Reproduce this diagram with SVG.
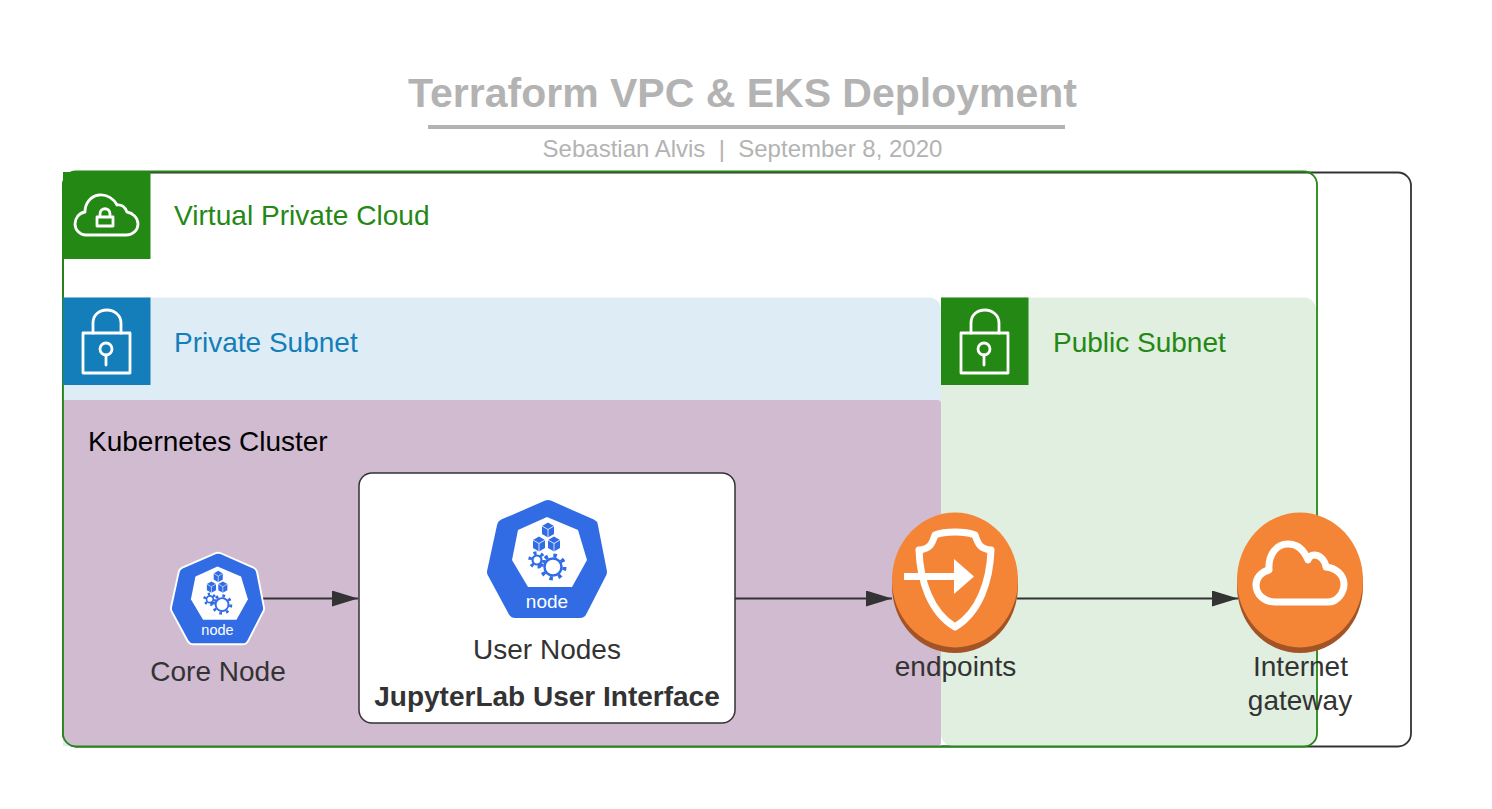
<svg xmlns="http://www.w3.org/2000/svg" xmlns:xlink="http://www.w3.org/1999/xlink" width="1492" height="809" viewBox="0 0 1492 809">
<style>
text{font-family:"Liberation Sans",Arial,sans-serif}
.lbl{font-size:28px;fill:#333;text-anchor:middle}
.ico{fill:none;stroke:#fff;stroke-linejoin:round;stroke-linecap:round}
.conn{fill:none;stroke:#333;stroke-width:2;marker-end:url(#arrow)}
.green{fill:#248814}
.blue{fill:#147eba}
</style>
<defs>
<marker id="arrow" markerUnits="userSpaceOnUse" markerWidth="28" markerHeight="18" refX="26" refY="8" orient="auto"><path d="M0 0L26 8L0 16Z" fill="#333"/></marker>
<g id="lock" class="ico" stroke-width="2.800">
<rect x="83" y="333" width="47" height="40"/>
<path d="M93 333V323C93 315 99 310 107 310C114 310 121 315 121 323V333"/>
<circle cx="106" cy="349" r="6"/>
<path d="M106 355V365"/>
</g>
<path id="hept" d="M1 -52L44 -33L53 13L33 52H-32L-53 13L-43 -33Z" stroke-linejoin="round"/>
<g id="k8snode">
<use href="#hept" xlink:href="#hept" fill="#326ce5" stroke="#326ce5" stroke-width="14"/>
<path d="M0 -42L31 -29L40 1L25 28H-19L-35 1L-29 -29Z" fill="#fff"/>
<g fill="#326ce5">
<path d="M1 -36.500L7 -33V-25L1 -21.500L-5 -25V-33Z"/>
<path d="M-8 -22.500L-2 -19V-11L-8 -7.500L-14 -11V-19Z"/>
<path d="M7 -22.500L13 -19V-11L7 -7.500L1 -11V-19Z"/>
</g>
<path d="M-5 -33L1 -29.500L7 -33M1 -29.500V-21.500M-14 -19L-8 -15.500L-2 -19M-8 -15.500V-7.500M1 -19L7 -15.500L13 -19M7 -15.500V-7.500" fill="none" stroke="#fff" stroke-width=".8"/>
<circle cx="-10" cy="1" r="7" fill="none" stroke="#326ce5" stroke-width="3.500" stroke-dasharray="3 4.330"/>
<circle cx="-10" cy="1" r="4.500" fill="#fff" stroke="#326ce5" stroke-width="2.200"/>
<circle cx="6" cy="8" r="11.500" fill="none" stroke="#326ce5" stroke-width="4" stroke-dasharray="3.500 5.530"/>
<circle cx="6" cy="8" r="8.500" fill="#fff" stroke="#326ce5" stroke-width="2.500"/>
</g>
</defs>

<g id="title">
<text x="742.500" y="107" font-size="41" font-weight="700" fill="#b3b3b3" text-anchor="middle">Terraform VPC &amp; EKS Deployment</text>
<rect x="428" y="125" width="637" height="4" fill="#b3b3b3"/>
<text x="742.500" y="157" font-size="24" fill="#b3b3b3" text-anchor="middle" xml:space="preserve">Sebastian Alvis  |  September 8, 2020</text>
</g>

<g id="outer"><rect x="63" y="172.500" width="1348" height="574" rx="13" fill="#fff" stroke="#333" stroke-width="1.800"/></g>

<g id="private-subnet">
<path d="M63 297.500H929a12 12 0 0 1 12 12V746H63Z" fill="#deedf5"/>
</g>
<g id="public-subnet">
<path d="M941 297.500H1304a12 12 0 0 1 12 12V734a12 12 0 0 1 -12 12H953a12 12 0 0 1 -12 -12Z" fill="#e0efdf"/>
</g>
<g id="kubernetes-cluster">
<path d="M63 400H937a4 4 0 0 1 4 4V742a4 4 0 0 1 -4 4H75a12 12 0 0 1 -12 -12Z" fill="#d1bbd1"/>
<text x="88" y="451" font-size="28" fill="#000">Kubernetes Cluster</text>
</g>
<g id="vpc">
<rect x="63" y="171.500" width="1254" height="575" rx="13" fill="none" stroke="#248814" stroke-width="1.800"/>
<rect x="63" y="172" width="87.500" height="87" class="green"/>
<path class="ico" stroke-width="2.800" d="M86 235H126C133 235 138 230 138 224C138 218 133 213 127 212C125 207 121 204 117 205C114 199 107 194 99 195C90 196 85 204 85 212C79 213 75 218 75 224C75 230 80 235 86 235Z"/>
<path class="ico" stroke-width="2.800" d="M97 217H113V226H97ZM100 217V214C100 207 110 207 110 214V217"/>
<text x="174" y="225" font-size="28.100" fill="#248814">Virtual Private Cloud</text>
</g>
<g id="private-label">
<rect x="63" y="297.500" width="87.500" height="87.500" class="blue"/>
<use href="#lock" xlink:href="#lock"/>
<text x="174" y="351.500" font-size="28" fill="#147eba">Private Subnet</text>
</g>
<g id="public-label">
<rect x="941" y="297.500" width="87.500" height="87.500" class="green"/>
<use href="#lock" xlink:href="#lock" transform="translate(878 0)"/>
<text x="1053" y="351.500" font-size="28" fill="#248814">Public Subnet</text>
</g>

<g id="connectors">
<path class="conn" d="M262 598.500H358"/>
<path class="conn" d="M735 598.500H892"/>
<path class="conn" d="M1017 598.500H1238"/>
</g>

<g id="core-node">
<use href="#hept" xlink:href="#hept" transform="translate(217.500 598.500) scale(.76)" fill="#fff" stroke="#fff" stroke-width="19"/>
<use href="#k8snode" xlink:href="#k8snode" transform="translate(217.500 598.500) scale(.76)"/>
<text x="217.500" y="635" font-size="14.500" fill="#fff" text-anchor="middle">node</text>
<text class="lbl" x="218" y="681">Core Node</text>
</g>
<g id="user-nodes">
<rect x="359" y="473" width="376" height="250" rx="13" fill="#fff" stroke="#333" stroke-width="1.500"/>
<use href="#k8snode" xlink:href="#k8snode" transform="translate(547 559)"/>
<text x="547" y="608" font-size="19" fill="#fff" text-anchor="middle">node</text>
<text class="lbl" x="547" y="659">User Nodes</text>
<text x="547" y="706" font-size="28" font-weight="700" fill="#333" text-anchor="middle">JupyterLab User Interface</text>
</g>
<g id="endpoints">
<ellipse cx="955" cy="586" rx="63" ry="67" fill="#a35427"/>
<ellipse cx="955" cy="580" rx="63" ry="67.500" fill="#f58536"/>
<path class="ico" stroke-width="7" d="M955 532C946 532 940 533 935 535C932 544 930 549 919 550C920 580 930 612 955 627C980 612 990 580 991 550C980 549 978 544 975 535C970 533 964 532 955 532Z"/>
<path d="M904 573H954V559L974 576.500L954 594V580H904Z" fill="#fff"/>
<text class="lbl" x="955.500" y="676">endpoints</text>
</g>
<g id="internet-gateway">
<ellipse cx="1300" cy="586" rx="63" ry="67" fill="#a35427"/>
<ellipse cx="1300" cy="580" rx="63" ry="67.500" fill="#f58536"/>
<path class="ico" stroke-width="7" d="M1275 602H1328C1338 602 1344 592 1344 584C1344 575 1336 568 1326 567C1325 560 1320 555 1314 555C1311 555 1309 557 1308 560C1304 550 1297 544 1288 544C1276 544 1268 555 1269 570C1261 572 1256 578 1256 585C1256 595 1265 602 1275 602Z"/>
<text class="lbl" x="1300.500" y="676">Internet</text>
<text class="lbl" x="1300" y="710">gateway</text>
</g>
</svg>
